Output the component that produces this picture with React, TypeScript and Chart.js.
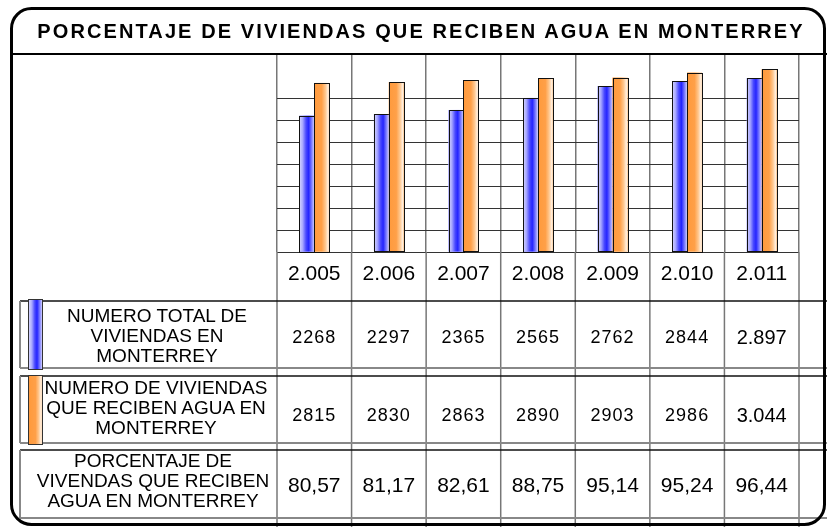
import React, { useEffect, useRef } from 'react';
import { Chart, registerables } from 'chart.js';

Chart.register(...registerables);

// ---- data ----
const years = ['2.005', '2.006', '2.007', '2.008', '2.009', '2.010', '2.011'];
const totalText = ['2268', '2297', '2365', '2565', '2762', '2844', '2.897'];
const aguaText = ['2815', '2830', '2863', '2890', '2903', '2986', '3.044'];
const porcentajeText = ['80,57', '81,17', '82,61', '88,75', '95,14', '95,24', '96,44'];
const totalViviendas = totalText.map((s) => Number(s.replace('.', '')));
const viviendasAgua = aguaText.map((s) => Number(s.replace('.', '')));
const title = 'PORCENTAJE DE VIVIENDAS QUE RECIBEN AGUA EN MONTERREY';
const rowLabels = [
  ['NUMERO TOTAL DE', 'VIVIENDAS EN', 'MONTERREY'],
  ['NUMERO DE VIVIENDAS', 'QUE RECIBEN AGUA EN', 'MONTERREY'],
  ['PORCENTAJE DE', 'VIVENDAS QUE RECIBEN', 'AGUA EN MONTERREY'],
];
const yMax = 3280;
const yStep = 360;
const yGridTop = 2880;

// ---- layout ----
const W = 827;
const H = 527;
const PL = 277;
const PR = 799;
const PT = 55;
const PB = 252;
const COL = (PR - PL) / years.length;
const FONT = '"Liberation Sans", Arial, sans-serif';

const blueStops: [number, string][] = [
  [0, '#d6d6ff'], [0.22, '#a8a8ff'], [0.45, '#4848ff'], [0.62, '#2424ff'], [0.82, '#7a7aff'], [1, '#cfcfff'],
];
const orangeStops: [number, string][] = [
  [0, '#ff9a3c'], [0.5, '#ffa048'], [0.75, '#ffc890'], [0.92, '#ffeede'], [1, '#ffd9b0'],
];
const cssGrad = (stops: [number, string][]) =>
  `linear-gradient(to right, ${stops.map(([p, c]) => `${c} ${p * 100}%`).join(', ')})`;

const tablePlugin = {
  id: 'tableFrame',
  afterDatasetsDraw(chart: any) {
    const ctx = chart.ctx;
    chart.data.datasets.forEach((ds: any, di: number) => {
      const meta = chart.getDatasetMeta(di);
      const stops = di === 0 ? blueStops : orangeStops;
      meta.data.forEach((el: any) => {
        const { x, y, base, width } = el.getProps(['x', 'y', 'base', 'width'], true);
        const left = x - width / 2;
        const g = ctx.createLinearGradient(left, 0, left + width, 0);
        stops.forEach(([p, c]) => g.addColorStop(p, c));
        ctx.save();
        ctx.fillStyle = g;
        ctx.fillRect(left, y, width, base - y);
        ctx.strokeStyle = '#111';
        ctx.lineWidth = 1;
        ctx.strokeRect(Math.round(left) + 0.5, Math.round(y) + 0.5, Math.round(width), Math.round(base - y));
        ctx.restore();
      });
    });
  },
  afterDraw(chart: any) {
    const ctx = chart.ctx;
    const xs = chart.scales.x;
    ctx.save();
    // vertical table lines under the plot
    ctx.strokeStyle = '#777';
    ctx.lineWidth = 1.5;
    for (let i = 0; i <= years.length; i++) {
      const x = i < years.length ? xs.getPixelForValue(i) - COL / 2 : xs.getPixelForValue(years.length - 1) + COL / 2;
      ctx.beginPath();
      ctx.moveTo(x, PB);
      ctx.lineTo(x, H);
      ctx.stroke();
    }
    // row boxes
    const rows = [
      [301, 368],
      [376, 443],
      [450, 518],
    ];
    rows.forEach(([t, b]) => {
      ctx.strokeStyle = '#111';
      ctx.lineWidth = 1.5;
      ctx.beginPath();
      ctx.moveTo(20, t);
      ctx.lineTo(W, t);
      ctx.stroke();
      ctx.strokeStyle = '#888';
      ctx.lineWidth = 2;
      ctx.beginPath();
      ctx.moveTo(20, b);
      ctx.lineTo(W, b);
      ctx.stroke();
      ctx.beginPath();
      ctx.moveTo(20, t);
      ctx.lineTo(20, b);
      ctx.stroke();
    });
    // title underline
    ctx.strokeStyle = '#000';
    ctx.lineWidth = 2;
    ctx.beginPath();
    ctx.moveTo(10, PT - 1);
    ctx.lineTo(W, PT - 1);
    ctx.stroke();
    // outer frame
    ctx.lineWidth = 3;
    ctx.beginPath();
    ctx.roundRect(11.5, 8.5, 813, 516, 20);
    ctx.stroke();
    ctx.restore();
  },
};

export default function App() {
  const ref = useRef<HTMLCanvasElement | null>(null);

  useEffect(() => {
    if (!ref.current) return;
    const chart = new Chart(ref.current, {
      type: 'bar',
      data: {
        labels: years,
        datasets: [
          { label: 'NUMERO TOTAL DE VIVIENDAS EN MONTERREY', data: totalViviendas, backgroundColor: '#5050ff', borderWidth: 0 },
          { label: 'NUMERO DE VIVIENDAS QUE RECIBEN AGUA EN MONTERREY', data: viviendasAgua, backgroundColor: '#ffa040', borderWidth: 0 },
        ],
      },
      options: {
        responsive: false,
        animation: false,
        layout: { padding: { left: PL, right: W - PR, top: PT, bottom: H - PB } },
        datasets: { bar: { categoryPercentage: 0.4, barPercentage: 1 } },
        plugins: { legend: { display: false }, tooltip: { enabled: false }, title: { display: false } },
        scales: {
          x: {
            grid: { offset: true, color: '#777', lineWidth: 1.5, drawTicks: false },
            border: { display: false },
            ticks: { display: false },
          },
          y: {
            min: 0,
            max: yMax,
            grid: { color: '#333', lineWidth: 1, drawTicks: false },
            border: { display: false },
            ticks: { display: false, stepSize: yStep },
            afterBuildTicks: (s: any) => {
              s.ticks = s.ticks.filter((t: any) => t.value <= yGridTop);
            },
          },
        },
      } as any,
      plugins: [tablePlugin],
    });
    return () => chart.destroy();
  }, []);

  const cell = (i: number, cy: number, lh: number, fs: number, extra: any = {}) => ({
    position: 'absolute' as const,
    left: PL + i * COL,
    width: COL,
    top: cy - lh / 2,
    height: lh,
    lineHeight: `${lh}px`,
    fontSize: fs,
    textAlign: 'center' as const,
    whiteSpace: 'nowrap' as const,
    ...extra,
  });

  const labelBlock = (lines: string[], cx: number, cy: number) => (
    <div
      style={{
        position: 'absolute',
        left: cx - 130,
        width: 260,
        top: cy - 30,
        lineHeight: '20px',
        fontSize: 19,
        textAlign: 'center',
        whiteSpace: 'nowrap',
      }}
    >
      {lines.map((l, k) => (
        <div key={k}>{l}</div>
      ))}
    </div>
  );

  return (
    <div
      style={{
        position: 'absolute',
        left: 0,
        top: 0,
        width: W,
        height: H,
        overflow: 'hidden',
        background: '#fff',
        fontFamily: FONT,
        color: '#000',
      }}
    >
      <canvas ref={ref} width={W} height={H} style={{ position: 'absolute', left: 0, top: 0, width: W, height: H }} />
      <div
        style={{
          position: 'absolute',
          left: 12,
          width: 818,
          top: 18,
          height: 26,
          lineHeight: '26px',
          fontSize: 20,
          fontWeight: 'bold',
          letterSpacing: 2.1,
          textAlign: 'center',
          whiteSpace: 'nowrap',
        }}
      >
        {title}
      </div>
      {years.map((y, i) => (
        <div key={'y' + i} style={cell(i, 273, 26, 21)}>{y}</div>
      ))}
      {totalText.map((v, i) => (
        <div key={'t' + i} style={cell(i, 337, 22, i === years.length - 1 ? 20 : 18, { letterSpacing: i === years.length - 1 ? 0 : 1 })}>{v}</div>
      ))}
      {aguaText.map((v, i) => (
        <div key={'a' + i} style={cell(i, 415, 22, i === years.length - 1 ? 20 : 18, { letterSpacing: i === years.length - 1 ? 0 : 1 })}>{v}</div>
      ))}
      {porcentajeText.map((v, i) => (
        <div key={'p' + i} style={cell(i, 485, 26, 21)}>{v}</div>
      ))}
      <div style={{ position: 'absolute', left: 28, top: 299, width: 13, height: 69, border: '1px solid #333', background: cssGrad(blueStops) }} />
      <div style={{ position: 'absolute', left: 28, top: 375, width: 13, height: 68, border: '1px solid #333', background: cssGrad(orangeStops) }} />
      {labelBlock(rowLabels[0], 157, 336)}
      {labelBlock(rowLabels[1], 156, 408)}
      {labelBlock(rowLabels[2], 153, 481)}
    </div>
  );
}
